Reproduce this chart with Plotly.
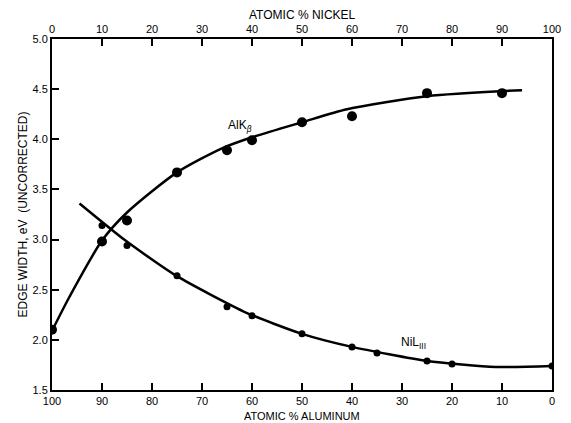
import plotly.graph_objects as go

# Atomic % nickel (top axis); atomic % aluminum = 100 - nickel
alk_ni = [0, 10, 15, 25, 35, 40, 50, 60, 75, 90]
alk_w = [2.10, 2.98, 3.19, 3.67, 3.89, 3.99, 4.17, 4.23, 4.46, 4.46]
alk_curve_ni = [0, 3.5, 10, 15, 25, 34, 40, 50, 59, 75, 94]
alk_curve_w = [2.09, 2.43, 2.99, 3.27, 3.67, 3.91, 4.02, 4.17, 4.30, 4.43, 4.49]

nil_ni = [10, 15, 25, 35, 40, 50, 60, 65, 75, 80, 100]
nil_w = [3.14, 2.94, 2.64, 2.33, 2.24, 2.06, 1.93, 1.87, 1.79, 1.76, 1.74]
nil_curve_ni = [5.5, 14.7, 24.8, 38.9, 50, 60, 75, 88.7, 100]
nil_curve_w = [3.36, 2.99, 2.64, 2.27, 2.06, 1.93, 1.79, 1.73, 1.74]

tick_vals = [0, 10, 20, 30, 40, 50, 60, 70, 80, 90, 100]
ni_labels = [str(v) for v in tick_vals]
al_labels = [str(100 - v) for v in tick_vals]
y_ticks = [1.5, 2.0, 2.5, 3.0, 3.5, 4.0, 4.5, 5.0]

FONT = "Liberation Sans"

fig = go.Figure()
fig.add_trace(go.Scatter(x=alk_curve_ni, y=alk_curve_w, mode="lines",
                         line=dict(color="black", width=2.5, shape="spline", smoothing=0.7),
                         hoverinfo="skip", showlegend=False))
fig.add_trace(go.Scatter(x=nil_curve_ni, y=nil_curve_w, mode="lines",
                         line=dict(color="black", width=2.5, shape="spline", smoothing=0.6),
                         hoverinfo="skip", showlegend=False))
fig.add_trace(go.Scatter(x=alk_ni, y=alk_w, mode="markers",
                         marker=dict(color="black", size=10, line=dict(width=0)),
                         showlegend=False, name="AlKβ"))
fig.add_trace(go.Scatter(x=nil_ni, y=nil_w, mode="markers",
                         marker=dict(color="black", size=7, line=dict(width=0)),
                         showlegend=False, name="NiLIII"))
# invisible trace to anchor the top axis
fig.add_trace(go.Scatter(x=[0, 100], y=[1.5, 1.5], xaxis="x2", mode="markers",
                         marker=dict(opacity=0), hoverinfo="skip", showlegend=False))

axis_common = dict(showgrid=False, zeroline=False, showline=True, linecolor="black",
                   linewidth=2, ticks="inside", tickcolor="black", tickwidth=2,
                   ticklen=7, tickfont=dict(family=FONT, size=11, color="black"))

fig.update_layout(
    width=571, height=423,
    margin=dict(l=52, r=10, t=39, b=33),
    paper_bgcolor="white", plot_bgcolor="white",
    xaxis=dict(range=[0, 100], tickmode="array", tickvals=tick_vals, ticktext=al_labels,
               mirror=False, **axis_common),
    xaxis2=dict(range=[0, 100], overlaying="x", side="top", tickmode="array",
                tickvals=tick_vals, ticktext=ni_labels, anchor="y", **axis_common),
    yaxis=dict(range=[1.5, 5.0], tickmode="array", tickvals=y_ticks,
               ticktext=[f"{v:.1f}" for v in y_ticks], mirror=True, **axis_common),
    annotations=[
        dict(text="ATOMIC % NICKEL", xref="paper", yref="paper", x=0.5, y=1,
             yanchor="bottom", yshift=15, showarrow=False,
             font=dict(family=FONT, size=12, color="black")),
        dict(text="ATOMIC % ALUMINUM", xref="paper", yref="paper", x=0.5, y=0,
             yanchor="top", yshift=-18, showarrow=False,
             font=dict(family=FONT, size=11, color="black")),
        dict(text="EDGE WIDTH, eV  (UNCORRECTED)", xref="paper", yref="paper",
             x=0, y=0.5, xanchor="center", xshift=-30, textangle=-90, showarrow=False,
             font=dict(family=FONT, size=12, color="black")),
        dict(text="AlK<sub><i>β</i></sub>", x=37.5, y=4.13, showarrow=False,
             font=dict(family=FONT, size=12, color="black")),
        dict(text="NiL<sub>III</sub>", x=72.3, y=1.97, showarrow=False,
             font=dict(family=FONT, size=12, color="black")),
    ],
)

fig.write_html("out.html")
